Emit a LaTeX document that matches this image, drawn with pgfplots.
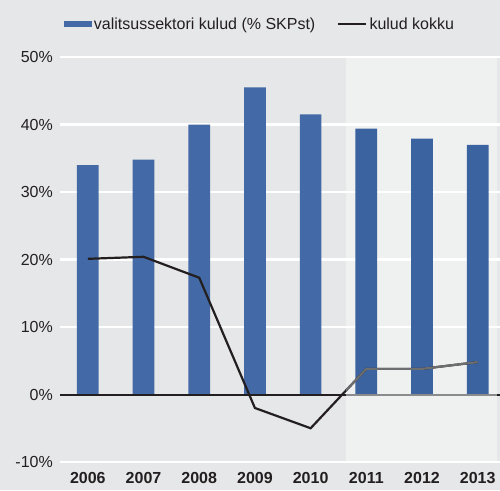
\documentclass[border=0pt]{standalone}
\usepackage{pgfplots}
\pgfplotsset{compat=1.18}
\usepackage{fontspec}
\setmainfont{Liberation Sans}
\definecolor{bgcol}{RGB}{230,231,232}
\definecolor{shadecol}{RGB}{239,240,240}
\definecolor{gridcol}{RGB}{255,255,255}
\definecolor{barblue}{RGB}{67,106,166}
\definecolor{barblue2}{RGB}{59,99,160}
\definecolor{txt}{RGB}{35,31,32}
\definecolor{linegray}{RGB}{109,110,112}
\begin{document}
\begin{tikzpicture}
\fill[bgcol] (0,0) rectangle (500pt,490pt);
\path[use as bounding box] (0,0) rectangle (500pt,490pt);
\fill[shadecol] (346pt,29pt) rectangle (497pt,432pt);
\begin{axis}[
  at={(60pt,28pt)}, anchor=south west,
  scale only axis, width=440pt, height=405pt,
  xmin=-0.5, xmax=7.4, ymin=-10, ymax=50,
  clip=false,
  axis line style={draw=none},
  major tick length=0pt,
  xtick={0,1,2,3,4,5,6,7},
  xticklabels={2006,2007,2008,2009,2010,2011,2012,2013},
  ytick={-10,0,10,20,30,40,50},
  yticklabel={\pgfmathprintnumber{\tick}\%},
  /pgf/number format/assume math mode=true,
  yticklabel style={font=\fontsize{16}{19}\selectfont, text=txt, inner sep=0pt, anchor=east, xshift=-7pt},
  xticklabel style={font=\fontsize{16}{19}\selectfont\bfseries, text=txt, inner sep=0pt, anchor=north, yshift=-10pt},
  legend columns=2,
  legend style={at={(0.4545,1.0815)}, anchor=center, draw=none, fill=none,
    font=\fontsize{16}{19}\selectfont, text=txt, inner sep=0pt,
    nodes={inner sep=2pt},
    /tikz/every even column/.append style={column sep=20pt}},
]
\draw[gridcol, line width=2.4pt] (axis cs:-0.5,-10) -- (axis cs:7.4,-10);
\draw[gridcol, line width=2.4pt] (axis cs:-0.5,10) -- (axis cs:7.4,10);
\draw[gridcol, line width=2.4pt] (axis cs:-0.5,20) -- (axis cs:7.4,20);
\draw[gridcol, line width=2.4pt] (axis cs:-0.5,30) -- (axis cs:7.4,30);
\draw[gridcol, line width=2.4pt] (axis cs:-0.5,40) -- (axis cs:7.4,40);
\draw[gridcol, line width=2.4pt] (axis cs:-0.5,50) -- (axis cs:7.4,50);
\addplot[ybar, bar shift=0pt, bar width=21.7pt, fill=barblue, draw=none,
  legend image code/.code={\fill[barblue] (0pt,-3pt) rectangle (28pt,3pt);}]
  coordinates {(0,34.0) (1,34.8) (2,40.0) (3,45.5) (4,41.5)};
\addlegendentry{valitsussektori kulud (\% SKPst)}
\addplot[ybar, bar shift=0pt, bar width=21.7pt, fill=barblue2, draw=none, forget plot]
  coordinates {(5,39.4) (6,37.9) (7,37.0)};
\draw[txt, line width=2pt] (axis cs:-0.5,0) -- (axis cs:7.4,0);
\draw[linegray!80!white, line width=2pt] (axis cs:4.635,0) -- (axis cs:7.345,0);
\addplot[txt, line width=2.2pt, mark=none,
  legend image code/.code={\draw[txt, line width=2.2pt] (0pt,0pt) -- (28pt,0pt);}]
  coordinates {(0,20.1) (1,20.4) (2,17.3) (3,-2.0) (4,-5.0) (5,3.8) (6,3.8) (7,4.8)};
\addlegendentry{kulud kokku}
\begin{scope}
\clip (axis cs:4.635,-10) rectangle (axis cs:7.4,50);
\addplot[linegray, line width=2.2pt, mark=none, forget plot]
  coordinates {(0,20.1) (1,20.4) (2,17.3) (3,-2.0) (4,-5.0) (5,3.8) (6,3.8) (7,4.8)};
\end{scope}
\end{axis}
\end{tikzpicture}
\end{document}
